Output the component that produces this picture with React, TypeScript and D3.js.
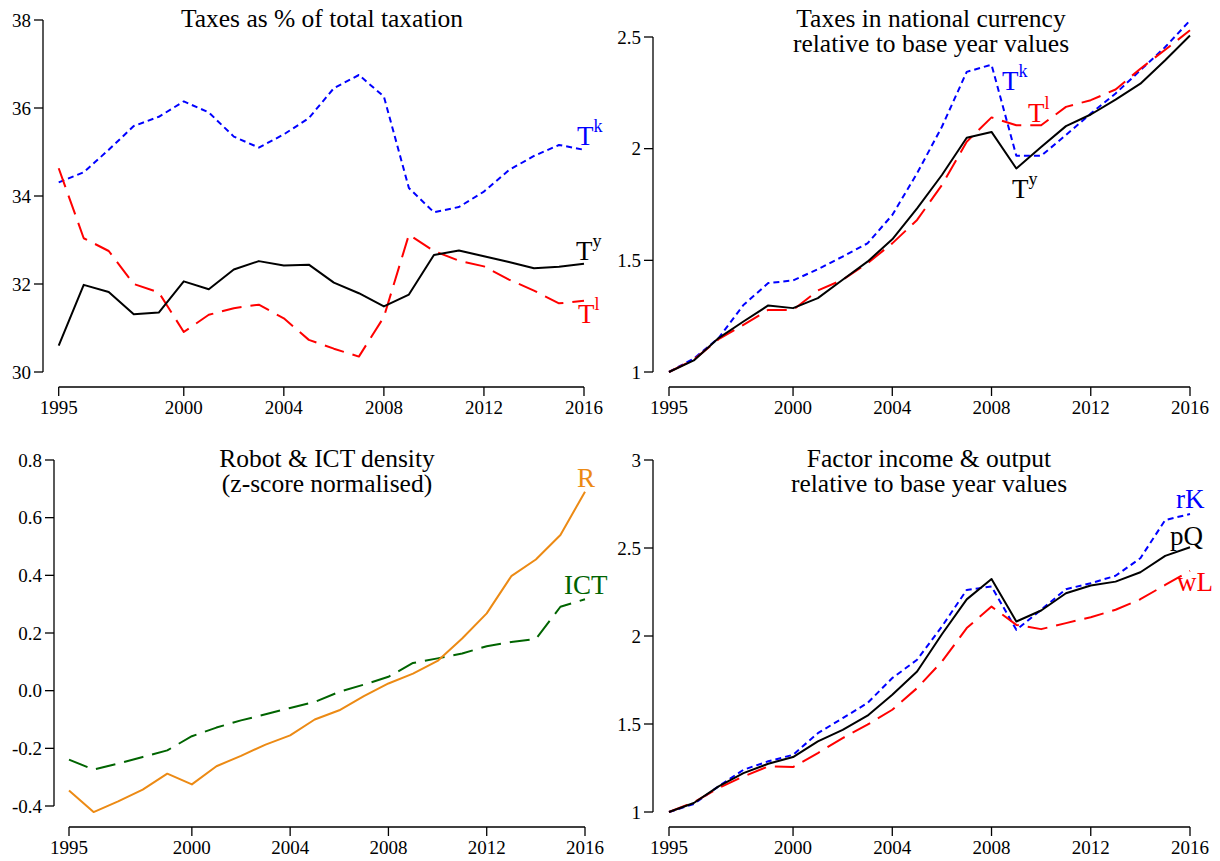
import * as d3 from 'd3';

const years = d3.range(1995, 2017);
const xTicks = [1995, 2000, 2004, 2008, 2012, 2016];

// panel 1: taxes as % of total taxation
const shareTk = [34.31, 34.54, 35.05, 35.59, 35.8, 36.15, 35.9, 35.35, 35.1, 35.4, 35.77, 36.45, 36.75, 36.26, 34.18, 33.63, 33.75, 34.1, 34.59, 34.91, 35.16, 35.05];
const shareTy = [30.6, 31.98, 31.82, 31.31, 31.35, 32.06, 31.88, 32.33, 32.52, 32.42, 32.44, 32.03, 31.79, 31.49, 31.76, 32.66, 32.76, 32.63, 32.5, 32.36, 32.39, 32.46];
const shareTl = [34.63, 33.04, 32.75, 32.0, 31.81, 30.91, 31.3, 31.45, 31.53, 31.22, 30.73, 30.53, 30.35, 31.25, 33.12, 32.75, 32.53, 32.4, 32.1, 31.85, 31.56, 31.62];

// panel 2: taxes relative to base year
const relTk = [1.0, 1.06, 1.152, 1.3, 1.398, 1.41, 1.46, 1.517, 1.576, 1.703, 1.89, 2.098, 2.344, 2.376, 1.968, 1.968, 2.061, 2.157, 2.247, 2.351, 2.455, 2.574];
const relTy = [1.0, 1.052, 1.152, 1.226, 1.298, 1.286, 1.331, 1.413, 1.494, 1.594, 1.733, 1.882, 2.049, 2.075, 1.911, 2.008, 2.101, 2.153, 2.22, 2.291, 2.396, 2.507];
const relTl = [1.0, 1.055, 1.147, 1.211, 1.278, 1.278, 1.365, 1.413, 1.487, 1.576, 1.681, 1.837, 2.031, 2.14, 2.105, 2.105, 2.187, 2.217, 2.265, 2.358, 2.443, 2.53];

// panel 3: robot & ICT density
const robots = [-0.346, -0.421, -0.384, -0.343, -0.288, -0.325, -0.262, -0.226, -0.187, -0.155, -0.1, -0.068, -0.019, 0.025, 0.059, 0.103, 0.181, 0.268, 0.397, 0.455, 0.54, 0.69];
const ict = [-0.239, -0.274, -0.253, -0.23, -0.207, -0.158, -0.128, -0.103, -0.082, -0.06, -0.039, -0.004, 0.021, 0.048, 0.096, 0.112, 0.129, 0.154, 0.169, 0.179, 0.291, 0.317];

// panel 4: factor income & output
const rK = [1.0, 1.045, 1.146, 1.24, 1.288, 1.325, 1.448, 1.533, 1.619, 1.761, 1.865, 2.054, 2.262, 2.281, 2.035, 2.149, 2.266, 2.3, 2.342, 2.442, 2.659, 2.693];
const pQ = [1.0, 1.051, 1.146, 1.221, 1.274, 1.312, 1.401, 1.467, 1.547, 1.666, 1.798, 2.01, 2.208, 2.324, 2.082, 2.145, 2.243, 2.287, 2.309, 2.362, 2.455, 2.504];
const wL = [1.0, 1.055, 1.136, 1.202, 1.259, 1.255, 1.335, 1.42, 1.496, 1.581, 1.704, 1.855, 2.045, 2.167, 2.063, 2.039, 2.073, 2.107, 2.149, 2.209, 2.29, 2.37];

const FONT = '"Liberation Serif", "Times New Roman", serif';
const BLUE = '#0000ff';
const RED = '#ff0000';
const ORANGE = '#ec8a14';
const GREEN = '#006400';
const SHORT_DASH = '6,4';
const LONG_DASH = '20,9';

type Series = { values: number[]; color: string; dash?: string };
type Label = { main: string; sup?: string; x: number; y: number; color: string };

interface PanelProps {
  xRange: [number, number];
  yDomain: [number, number];
  yRange: [number, number];
  yTicks: number[];
  yFormat: (v: number) => string;
  axisX: number;
  axisY: number;
  title: string[];
  titleX: number;
  titleY: number;
  series: Series[];
  labels: Label[];
}

function Panel(p: PanelProps) {
  const x = d3.scaleLinear().domain([1995, 2016]).range(p.xRange);
  const y = d3.scaleLinear().domain(p.yDomain).range(p.yRange);
  const line = d3
    .line<number>()
    .x((_, i) => x(years[i]))
    .y((d) => y(d));
  const yTop = y(p.yTicks[p.yTicks.length - 1]);
  const yBot = y(p.yTicks[0]);

  return (
    <g fontFamily={FONT}>
      {p.title.map((t, i) => (
        <text key={t} x={p.titleX} y={p.titleY + i * 25} textAnchor="middle" fontSize={25.5} fill="#000">
          {t}
        </text>
      ))}

      {/* y axis */}
      <line x1={p.axisX} x2={p.axisX} y1={yBot} y2={yTop} stroke="#000" strokeWidth={1.3} />
      {p.yTicks.map((t) => (
        <g key={t}>
          <line x1={p.axisX - 9} x2={p.axisX} y1={y(t)} y2={y(t)} stroke="#000" strokeWidth={1.3} />
          <text x={p.axisX - 12} y={y(t)} dy="0.35em" textAnchor="end" fontSize={19}>
            {p.yFormat(t)}
          </text>
        </g>
      ))}

      {/* x axis */}
      <line x1={x(1995)} x2={x(2016)} y1={p.axisY} y2={p.axisY} stroke="#000" strokeWidth={1.3} />
      {xTicks.map((t) => (
        <g key={t}>
          <line x1={x(t)} x2={x(t)} y1={p.axisY} y2={p.axisY + 9} stroke="#000" strokeWidth={1.3} />
          <text x={x(t)} y={p.axisY + 27} textAnchor="middle" fontSize={19}>
            {t}
          </text>
        </g>
      ))}

      {p.series.map((s, i) => (
        <path
          key={i}
          d={line(s.values) ?? ''}
          fill="none"
          stroke={s.color}
          strokeWidth={2}
          strokeDasharray={s.dash}
          strokeLinejoin="round"
        />
      ))}

      {p.labels.map((l, i) => (
        <text key={i} x={l.x} y={l.y} fill={l.color} fontSize={27}>
          {l.main}
          {l.sup && (
            <tspan dy={-13} fontSize={18}>
              {l.sup}
            </tspan>
          )}
        </text>
      ))}
    </g>
  );
}

const plain = (v: number) => d3.format('')(v);
const oneDec = (v: number) => d3.format('.1f')(v).replace('−', '-');

export default function App() {
  return (
    <svg
      width={1220}
      height={861}
      style={{ position: 'absolute', left: 0, top: 0, background: '#fff' }}
    >
      <Panel
        xRange={[58.7, 584]}
        yDomain={[30, 38]}
        yRange={[372, 20]}
        yTicks={[30, 32, 34, 36, 38]}
        yFormat={plain}
        axisX={43}
        axisY={387}
        title={['Taxes as % of total taxation']}
        titleX={322}
        titleY={27}
        series={[
          { values: shareTk, color: BLUE, dash: SHORT_DASH },
          { values: shareTl, color: RED, dash: LONG_DASH },
          { values: shareTy, color: '#000' },
        ]}
        labels={[
          { main: 'T', sup: 'k', x: 577, y: 145, color: BLUE },
          { main: 'T', sup: 'y', x: 576, y: 260, color: '#000' },
          { main: 'T', sup: 'l', x: 578, y: 323, color: RED },
        ]}
      />
      <Panel
        xRange={[669, 1190]}
        yDomain={[1, 2.5]}
        yRange={[372, 37]}
        yTicks={[1, 1.5, 2, 2.5]}
        yFormat={plain}
        axisX={653}
        axisY={387}
        title={['Taxes in national currency', 'relative to base year values']}
        titleX={931}
        titleY={27}
        series={[
          { values: relTk, color: BLUE, dash: SHORT_DASH },
          { values: relTl, color: RED, dash: LONG_DASH },
          { values: relTy, color: '#000' },
        ]}
        labels={[
          { main: 'T', sup: 'k', x: 1002, y: 90, color: BLUE },
          { main: 'T', sup: 'l', x: 1028, y: 122, color: RED },
          { main: 'T', sup: 'y', x: 1012, y: 198, color: '#000' },
        ]}
      />
      <Panel
        xRange={[69, 585]}
        yDomain={[-0.4, 0.8]}
        yRange={[806, 460]}
        yTicks={[-0.4, -0.2, 0, 0.2, 0.4, 0.6, 0.8]}
        yFormat={oneDec}
        axisX={54}
        axisY={827}
        title={['Robot & ICT density', '(z-score normalised)']}
        titleX={327}
        titleY={467}
        series={[
          { values: ict, color: GREEN, dash: LONG_DASH },
          { values: robots, color: ORANGE },
        ]}
        labels={[
          { main: 'R', x: 577, y: 487, color: ORANGE },
          { main: 'ICT', x: 564, y: 594, color: GREEN },
        ]}
      />
      <Panel
        xRange={[669, 1190]}
        yDomain={[1, 3]}
        yRange={[812, 460]}
        yTicks={[1, 1.5, 2, 2.5, 3]}
        yFormat={plain}
        axisX={653}
        axisY={827}
        title={['Factor income & output', 'relative to base year values']}
        titleX={929}
        titleY={467}
        series={[
          { values: rK, color: BLUE, dash: SHORT_DASH },
          { values: wL, color: RED, dash: LONG_DASH },
          { values: pQ, color: '#000' },
        ]}
        labels={[
          { main: 'rK', x: 1176, y: 508, color: BLUE },
          { main: 'pQ', x: 1170, y: 545, color: '#000' },
          { main: 'wL', x: 1177, y: 591, color: RED },
        ]}
      />
    </svg>
  );
}
